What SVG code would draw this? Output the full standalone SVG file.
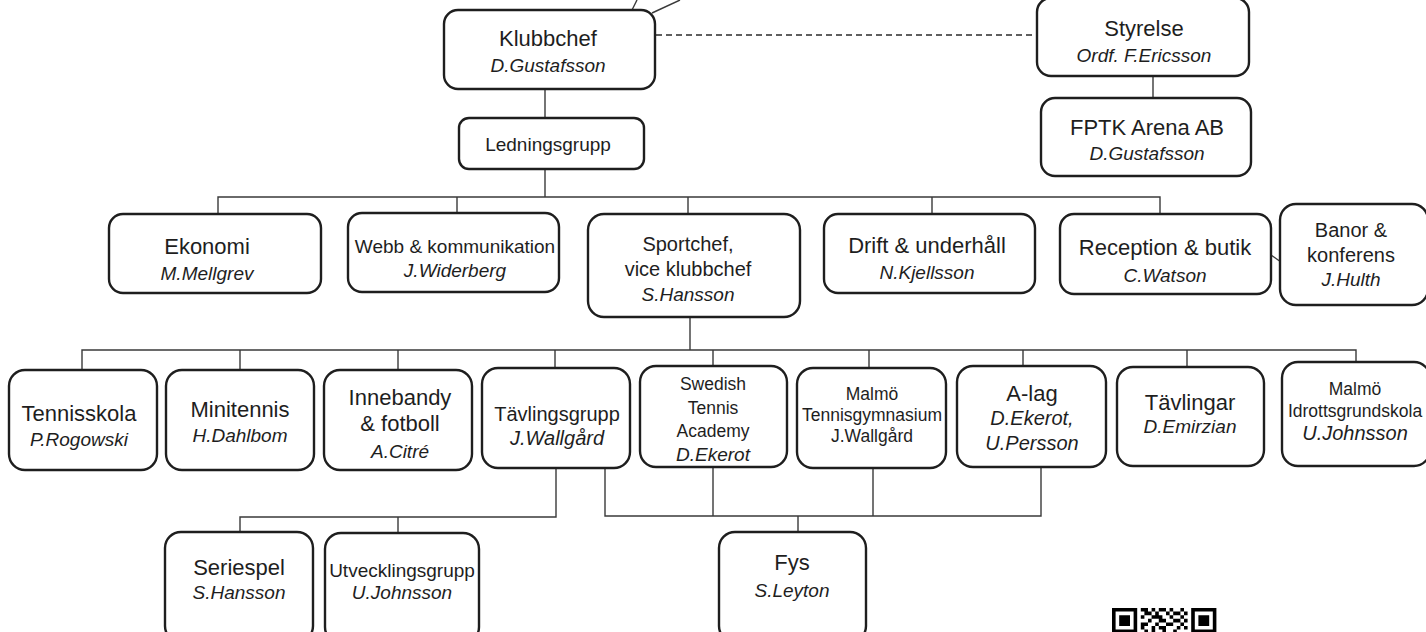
<svg xmlns="http://www.w3.org/2000/svg" width="1426" height="632" viewBox="0 0 1426 632">
<style>
.box{fill:#fff;stroke:#1e1e1e;stroke-width:2.4}
.ln{fill:none;stroke:#3a3a3a;stroke-width:1.4}
.dash{fill:none;stroke:#2a2a2a;stroke-width:1.6;stroke-dasharray:6 4}
text{font-family:"Liberation Sans",Arial,sans-serif;fill:#1e1e1e;text-anchor:middle}
.t{font-size:22px}
.t20{font-size:20px}
.t19{font-size:19px}
.t18{font-size:17.5px}
.s{font-size:19px;font-style:italic}
.s20{font-size:20px;font-style:italic}
.qr{fill:#000}
</style>
<rect width="1426" height="632" fill="#fff"/>
<g id="connectors">
<line class="ln" x1="632" y1="10" x2="637" y2="0"/>
<line class="ln" x1="652" y1="13" x2="680" y2="0"/>
<line class="dash" x1="656" y1="35" x2="1037" y2="35"/>
<line class="ln" x1="1153" y1="76" x2="1153" y2="98"/>
<line class="ln" x1="545" y1="89" x2="545" y2="118"/>
<line class="ln" x1="545" y1="169" x2="545" y2="197"/>
<path class="ln" d="M218 214V197H1160V214M457 197V213M688 197V214M932 197V214"/>
<line class="ln" x1="1271" y1="255" x2="1281" y2="262"/>
<path class="ln" d="M690 317V350"/>
<path class="ln" d="M82 370V350H1356V362M240 350V370M398 350V370M555 350V368M713 350V366M869 350V368M1023 350V366M1187 350V367"/>
<path class="ln" d="M556 468V517H240V532M398 517V533"/>
<path class="ln" d="M605 468V516H1041V467M713 467V516M873 468V516M798 516V532"/>
</g>
<g id="klubbchef"><rect class="box" x="444" y="10" width="211" height="79" rx="14"/><text class="t" x="548" y="46">Klubbchef</text><text class="s" x="548" y="72">D.Gustafsson</text></g>
<g id="styrelse"><rect class="box" x="1037" y="-2" width="212" height="78" rx="14"/><text class="t" x="1144" y="36">Styrelse</text><text class="s" x="1144" y="62">Ordf. F.Ericsson</text></g>
<g id="fptk"><rect class="box" x="1041" y="98" width="210" height="78" rx="14"/><text class="t" x="1147" y="135">FPTK Arena AB</text><text class="s" x="1147" y="160">D.Gustafsson</text></g>
<g id="ledningsgrupp"><rect class="box" x="459" y="118" width="185" height="51" rx="10"/><text class="t19" x="548" y="151">Ledningsgrupp</text></g>
<g id="ekonomi"><rect class="box" x="109" y="214" width="212" height="79" rx="14"/><text class="t" x="207" y="254">Ekonomi</text><text class="s" x="207" y="280">M.Mellgrev</text></g>
<g id="webb"><rect class="box" x="348" y="213" width="211" height="79" rx="14"/><text class="t19" x="455" y="253">Webb &amp; kommunikation</text><text class="s" x="455" y="277">J.Widerberg</text></g>
<g id="sportchef"><rect class="box" x="588" y="214" width="212" height="103" rx="16"/><text class="t20" x="688" y="251">Sportchef,</text><text class="t20" x="688" y="276">vice klubbchef</text><text class="s" x="688" y="301">S.Hansson</text></g>
<g id="drift"><rect class="box" x="824" y="214" width="211" height="79" rx="14"/><text class="t" x="927" y="253">Drift &amp; underhåll</text><text class="s" x="927" y="279">N.Kjellsson</text></g>
<g id="reception"><rect class="box" x="1060" y="214" width="211" height="80" rx="14"/><text class="t" x="1165" y="255">Reception &amp; butik</text><text class="s" x="1165" y="282">C.Watson</text></g>
<g id="banor"><rect class="box" x="1280" y="204" width="148" height="101" rx="16"/><text class="t20" x="1351" y="237">Banor &amp;</text><text class="t20" x="1351" y="262">konferens</text><text class="s" x="1351" y="286">J.Hulth</text></g>
<g id="tennisskola"><rect class="box" x="9" y="370" width="148" height="100" rx="16"/><text class="t" x="79" y="421">Tennisskola</text><text class="s" x="79" y="446">P.Rogowski</text></g>
<g id="minitennis"><rect class="box" x="166" y="370" width="148" height="100" rx="16"/><text class="t" x="240" y="417">Minitennis</text><text class="s" x="240" y="442">H.Dahlbom</text></g>
<g id="innebandy"><rect class="box" x="324" y="370" width="148" height="100" rx="16"/><text class="t" x="400" y="405">Innebandy</text><text class="t" x="400" y="431">&amp; fotboll</text><text class="s" x="400" y="458">A.Citré</text></g>
<g id="tavlingsgrupp"><rect class="box" x="482" y="368" width="148" height="100" rx="16"/><text class="t20" x="557" y="421">Tävlingsgrupp</text><text class="s20" x="557" y="445">J.Wallgård</text></g>
<g id="sta"><rect class="box" x="640" y="366" width="147" height="101" rx="16"/><text class="t18" x="713" y="390">Swedish</text><text class="t18" x="713" y="414">Tennis</text><text class="t18" x="713" y="437">Academy</text><text class="s" x="713" y="461">D.Ekerot</text></g>
<g id="malmo-tg"><rect class="box" x="797" y="368" width="149" height="100" rx="16"/><text class="t18" x="872" y="400">Malmö</text><text class="t18" x="872" y="421">Tennisgymnasium</text><text class="t18" x="872" y="442">J.Wallgård</text></g>
<g id="alag"><rect class="box" x="957" y="366" width="149" height="101" rx="16"/><text class="t" x="1032" y="401">A-lag</text><text class="s20" x="1032" y="425">D.Ekerot,</text><text class="s20" x="1032" y="450">U.Persson</text></g>
<g id="tavlingar"><rect class="box" x="1117" y="367" width="147" height="99" rx="16"/><text class="t" x="1190" y="410">Tävlingar</text><text class="s" x="1190" y="433">D.Emirzian</text></g>
<g id="malmo-ig"><rect class="box" x="1282" y="362" width="148" height="104" rx="16"/><text class="t18" x="1355" y="395">Malmö</text><text class="t18" x="1355" y="417">Idrottsgrundskola</text><text class="s20" x="1355" y="440">U.Johnsson</text></g>
<g id="seriespel"><rect class="box" x="165" y="532" width="148" height="110" rx="16"/><text class="t" x="239" y="575">Seriespel</text><text class="s" x="239" y="599">S.Hansson</text></g>
<g id="utvecklingsgrupp"><rect class="box" x="325" y="533" width="154" height="110" rx="16"/><text class="t19" x="402" y="577">Utvecklingsgrupp</text><text class="s" x="402" y="599">U.Johnsson</text></g>
<g id="fys"><rect class="box" x="719" y="532" width="147" height="110" rx="16"/><text class="t" x="792" y="570">Fys</text><text class="s" x="792" y="597">S.Leyton</text></g>
<g id="qr">
<path class="qr" fill-rule="evenodd" d="M1112 608h25.2v25.2h-25.2zM1115.6 611.6v18h18v-18zM1119.2 615.2h10.8v10.8h-10.8z"/>
<path class="qr" fill-rule="evenodd" d="M1191.2 608h25.2v25.2h-25.2zM1194.8 611.6v18h18v-18zM1198.4 615.2h10.8v10.8h-10.8z"/>
<path class="qr" d="M1140.8 608h7.2v3.6h-7.2zM1151.6 608h3.6v3.6h-3.6zM1158.8 608h7.2v3.6h-7.2zM1169.6 608h3.6v3.6h-3.6zM1180.4 608h3.6v3.6h-3.6zM1144.4 611.6h7.2v3.6h-7.2zM1155.2 611.6h3.6v3.6h-3.6zM1166 611.6h3.6v3.6h-3.6zM1173.2 611.6h7.2v3.6h-7.2zM1184 611.6h3.6v3.6h-3.6zM1140.8 615.2h3.6v3.6h-3.6zM1151.6 615.2h10.8v3.6h-10.8zM1169.6 615.2h3.6v3.6h-3.6zM1180.4 615.2h3.6v3.6h-3.6zM1148 618.8h3.6v3.6h-3.6zM1158.8 618.8h7.2v3.6h-7.2zM1173.2 618.8h7.2v3.6h-7.2zM1184 618.8h3.6v3.6h-3.6zM1140.8 622.4h7.2v3.6h-7.2zM1155.2 622.4h3.6v3.6h-3.6zM1166 622.4h7.2v3.6h-7.2zM1180.4 622.4h3.6v3.6h-3.6zM1140.8 626h3.6v3.6h-3.6zM1151.6 626h3.6v3.6h-3.6zM1158.8 626h7.2v3.6h-7.2zM1176.8 626h3.6v3.6h-3.6zM1184 626h3.6v3.6h-3.6zM1144.4 629.6h3.6v3.6h-3.6zM1151.6 629.6h3.6v3.6h-3.6zM1162.4 629.6h3.6v3.6h-3.6zM1173.2 629.6h3.6v3.6h-3.6z"/>
</g>
</svg>
